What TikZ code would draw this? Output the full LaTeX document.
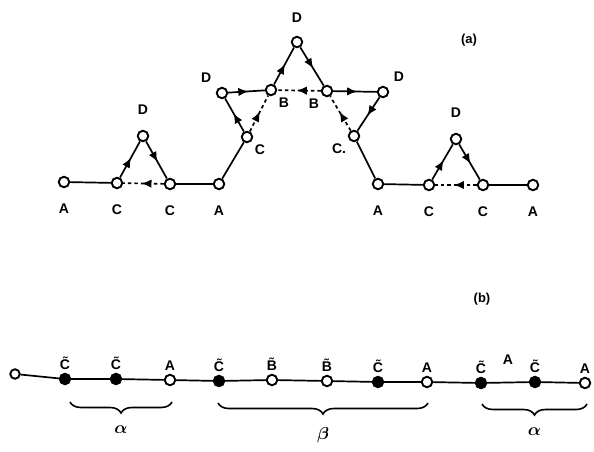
\documentclass[tikz,border=0pt]{standalone}
\usepackage{fontspec}
\setmainfont{Liberation Sans}
\usetikzlibrary{arrows.meta,decorations.markings,decorations.pathreplacing,positioning}

\tikzset{
  site/.style={circle,draw,line width=1.9pt,fill=white,inner sep=0pt,minimum size=10.5pt},
  fsite/.style={site,fill=black},
  bond/.style={line width=1.7pt},
  fwd/.style={bond,postaction={decorate,decoration={markings,
      mark=at position 0.55 with {\arrow{Latex[length=10pt,width=8.5pt]}}}}},
  back/.style={fwd,dash pattern=on 3.5pt off 3pt},
  every label/.style={font=\fontsize{14}{16}\selectfont\bfseries},
  tag/.style={font=\fontsize{13}{15}\selectfont\bfseries},
  grp/.style={line width=1.6pt,decorate,decoration={brace,mirror,amplitude=11pt}},
  greek/.style={font=\fontsize{16}{18}\selectfont\boldmath}
}

\begin{document}
\begin{tikzpicture}[x=1pt,y=-1pt,label distance=12pt]
  \useasboundingbox (0,0) rectangle (594,452);

  % (a) the grown chain
  \node[site,label={below:A}] (a1) at (64,182) {};
  \node[site,label={below:C}] (c1) at (117,183) {};
  \node[site,label={above:D}] (d1) at (143,136) {};
  \node[site,label={below:C}] (c2) at (170,184) {};
  \node[site,label={below:A}] (a2) at (219,184) {};
  \node[site,label={[label distance=0pt]below right:C}] (c3) at (247,137) {};
  \node[site,label={[label distance=4pt]above left:D}] (d2) at (222,93) {};
  \node[site,label={[label distance=0pt]below right:B}] (b1) at (271,90) {};
  \node[site,label={[label distance=10pt]above:D}] (d3) at (297,42) {};
  \node[site,label={[label distance=0pt]below left:B}] (b2) at (327,91) {};
  \node[site,label={[label distance=4pt]above right:D}] (d4) at (383,92) {};
  \node[site,label={[label distance=0pt]below left:C.}] (c4) at (354,136) {};
  \node[site,label={below:A}] (a3) at (378,184) {};
  \node[site,label={below:C}] (c5) at (429,185) {};
  \node[site,label={above:D}] (d5) at (456,139) {};
  \node[site,label={below:C}] (c6) at (483,185) {};
  \node[site,label={below:A}] (a4) at (533,185) {};
  \node[tag] (ta) at (469,40) {(a)};

  \draw[bond] (a1) -- (c1);
  \path (c1) edge[fwd] (d1) (d1) edge[fwd] (c2) (c2) edge[back] (c1);
  \draw[bond] (c2) -- (a2) -- (c3);
  \path (c3) edge[fwd] (d2) (d2) edge[fwd] (b1) (b1) edge[fwd] (d3)
        (d3) edge[fwd] (b2) (b2) edge[fwd] (d4) (d4) edge[fwd] (c4)
        (b2) edge[back] (b1) (c3) edge[back] (b1) (c4) edge[back] (b2);
  \draw[bond] (c4) -- (a3) -- (c5);
  \path (c5) edge[fwd] (d5) (d5) edge[fwd] (c6) (c6) edge[back] (c5);
  \draw[bond] (c6) -- (a4);

  % (b) the straight chain
  \begin{scope}[label distance=0pt]
    \node[site,minimum size=9.5pt] (s0) at (15,374) {};
    \node[fsite,label={above:\~{C}}] (s1) at (65,379) {};
    \node[fsite,label={above:\~{C}}] (s2) at (116,379) {};
    \node[site,label={above:A}] (s3) at (170,380) {};
    \node[fsite,label={above:\~{C}}] (s4) at (219,381) {};
    \node[site,label={above:\~{B}}] (s5) at (272,380) {};
    \node[site,label={above:\~{B}}] (s6) at (327,381) {};
    \node[fsite,label={above:\~{C}}] (s7) at (378,382) {};
    \node[site,label={above:A}] (s8) at (427,382) {};
    \node[fsite,label={above:\~{C}}] (s9) at (481,383) {};
    \node[fsite,label={above:\~{C}}] (s10) at (535,382) {};
    \node[site,label={above:A}] (s11) at (585,383) {};
  \end{scope}
  \node[font=\fontsize{14}{16}\selectfont\bfseries] (xa) at (508,360) {A};
  \node[tag] (tb) at (482,299) {(b)};

  \draw[bond] (s0) -- (s1) -- (s2) -- (s3) -- (s4) -- (s5) -- (s6)
              -- (s7) -- (s8) -- (s9) -- (s10) -- (s11);

  \draw[grp] (70,402) -- node[greek,below=20pt] (al1) {$\alpha$} (172,402);
  \draw[grp] (218,403) -- node[greek,below=20pt] (be) {$\beta$} (428,403);
  \draw[grp] (482,404) -- node[greek,below=20pt] (al2) {$\alpha$} (587,404);
\end{tikzpicture}
\end{document}
